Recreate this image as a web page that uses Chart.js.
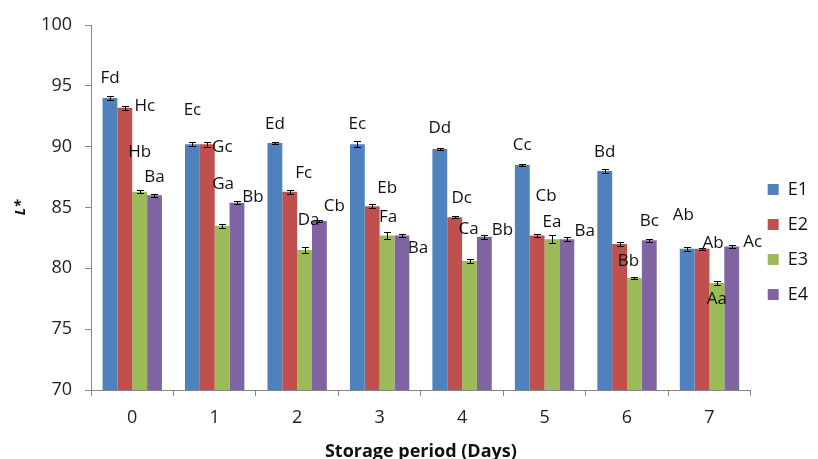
<!DOCTYPE html>
<html>
<head>
<meta charset="utf-8">
<script src="https://cdn.jsdelivr.net/npm/chart.js@4/dist/chart.umd.min.js"></script>
<style>
  html, body { margin: 0; padding: 0; background: #fff; }
  #wrap { width: 818px; height: 459px; }
</style>
</head>
<body>
<div id="wrap"><canvas id="lChart"></canvas></div>
<script>
// L* values by storage day
const days = ["0", "1", "2", "3", "4", "5", "6", "7"];

const e1 = [94.0, 90.2, 90.3, 90.2, 89.8, 88.5, 88.0, 81.6];
const e2 = [93.2, 90.2, 86.3, 85.1, 84.2, 82.7, 82.0, 81.6];
const e3 = [86.3, 83.5, 81.5, 82.7, 80.6, 82.4, 79.2, 78.8];
const e4 = [86.0, 85.4, 83.9, 82.7, 82.6, 82.4, 82.3, 81.8];

// standard deviations (half length of error bar)
const e1Err = [0.2, 0.15, 0.1, 0.25, 0.1, 0.1, 0.15, 0.15];
const e2Err = [0.15, 0.2, 0.15, 0.15, 0.1, 0.1, 0.15, 0.1];
const e3Err = [0.1, 0.15, 0.25, 0.25, 0.2, 0.35, 0.1, 0.15];
const e4Err = [0.1, 0.15, 0.1, 0.1, 0.15, 0.15, 0.1, 0.1];

// significance letters
const e1Letters = ["Fd", "Ec", "Ed", "Ec", "Dd", "Cc", "Bd", "Ab"];
const e2Letters = ["Hc", "Gc", "Fc", "Eb", "Dc", "Cb", "", "Ab"];
const e3Letters = ["Hb", "Ga", "Da", "Fa", "Ca", "Ea", "Bb", "Aa"];
const e4Letters = ["Ba", "Bb", "Cb", "Ba", "Bb", "Ba", "Bc", "Ac"];

const yTicks = { min: 70, max: 100, step: 5 };

// where each letter sits relative to the top of its bar (px, as in the figure)
const labelShift = [
  [[0,-20],[0,-34],[0,-19],[0,-20],[0,-21],[0,-20],[0,-19],[-4,-34]],
  [[20,-2],[15,3],[14,-19],[15,-18],[7,-19],[9,-39],[0,0],[11,-6]],
  [[0,-40],[1,-42],[4,-30],[1,-18],[-1,-32],[0,-17],[-6,-17],[0,16]],
  [[0,-18],[16,-5],[15,-15],[16,13],[18,-7],[18,-8],[0,-19],[21,-4]]
];

const FONT = "'Open Sans', 'Noto Sans', sans-serif";

const errorBars = {
  id: "errorBars",
  afterDatasetsDraw(chart) {
    const ctx = chart.ctx, y = chart.scales.y;
    ctx.save();
    ctx.strokeStyle = "#000";
    ctx.lineWidth = 1;
    chart.data.datasets.forEach((ds, i) => {
      chart.getDatasetMeta(i).data.forEach((bar, j) => {
        const v = ds.data[j], e = ds.errors[j];
        const x = Math.round(bar.x) + 0.5;
        const top = Math.round(y.getPixelForValue(v + e)) + 0.5;
        const bot = Math.round(y.getPixelForValue(v - e)) + 0.5;
        ctx.beginPath();
        ctx.moveTo(x, top); ctx.lineTo(x, bot);
        ctx.moveTo(x - 3.5, top); ctx.lineTo(x + 3.5, top);
        ctx.moveTo(x - 3.5, bot); ctx.lineTo(x + 3.5, bot);
        ctx.stroke();
      });
    });
    ctx.restore();
  }
};

const letterLabels = {
  id: "letterLabels",
  afterDatasetsDraw(chart) {
    const ctx = chart.ctx, y = chart.scales.y;
    ctx.save();
    ctx.font = "17px " + FONT;
    ctx.fillStyle = "#111";
    ctx.textAlign = "center";
    ctx.textBaseline = "middle";
    chart.data.datasets.forEach((ds, i) => {
      chart.getDatasetMeta(i).data.forEach((bar, j) => {
        const txt = ds.letters[j];
        if (!txt) return;
        const [dx, dy] = labelShift[i][j];
        ctx.fillText(txt, bar.x + dx, y.getPixelForValue(ds.data[j]) + dy);
      });
    });
    ctx.restore();
  }
};

new Chart(document.getElementById("lChart"), {
  type: "bar",
  data: {
    labels: days,
    datasets: [
      { label: "E1", data: e1, errors: e1Err, letters: e1Letters, backgroundColor: "#4F81BD" },
      { label: "E2", data: e2, errors: e2Err, letters: e2Letters, backgroundColor: "#C0504D" },
      { label: "E3", data: e3, errors: e3Err, letters: e3Letters, backgroundColor: "#9BBB59" },
      { label: "E4", data: e4, errors: e4Err, letters: e4Letters, backgroundColor: "#8064A2" }
    ]
  },
  options: {
    responsive: true,
    maintainAspectRatio: false,
    animation: false,
    layout: { padding: { top: 25, left: 0, right: 0, bottom: 0 } },
    datasets: { bar: { categoryPercentage: 0.72, barPercentage: 1.0, borderWidth: 0 } },
    plugins: {
      tooltip: { enabled: false },
      legend: {
        position: "right",
        labels: {
          boxWidth: 11,
          boxHeight: 11,
          padding: 17,
          color: "#111",
          font: { family: FONT, size: 18 }
        }
      }
    },
    scales: {
      x: {
        grid: { display: true, offset: true, drawOnChartArea: false, drawTicks: true, tickLength: 6, color: "#868686" },
        border: { display: true, color: "#868686" },
        ticks: { color: "#222", padding: 11, font: { family: FONT, size: 18 } },
        title: {
          display: true,
          text: "Storage period (Days)",
          color: "#111",
          font: { family: FONT, size: 18, weight: "bold", lineHeight: 1 },
          padding: { top: 0, bottom: -2 }
        },
        afterFit(scale) { scale.height = 69; }
      },
      y: {
        min: yTicks.min,
        max: yTicks.max,
        grid: { display: true, drawOnChartArea: false, drawTicks: true, tickLength: 6, color: "#868686" },
        border: { display: true, color: "#868686" },
        ticks: { stepSize: yTicks.step, color: "#222", padding: 13, font: { family: FONT, size: 18 } },
        title: {
          display: true,
          text: "L*",
          color: "#111",
          font: { family: FONT, size: 15, weight: "bold", style: "italic" },
          padding: { top: 12, bottom: 0 }
        },
        afterFit(scale) { scale.width = 91; }
      }
    }
  },
  plugins: [errorBars, letterLabels]
});
</script>
</body>
</html>
